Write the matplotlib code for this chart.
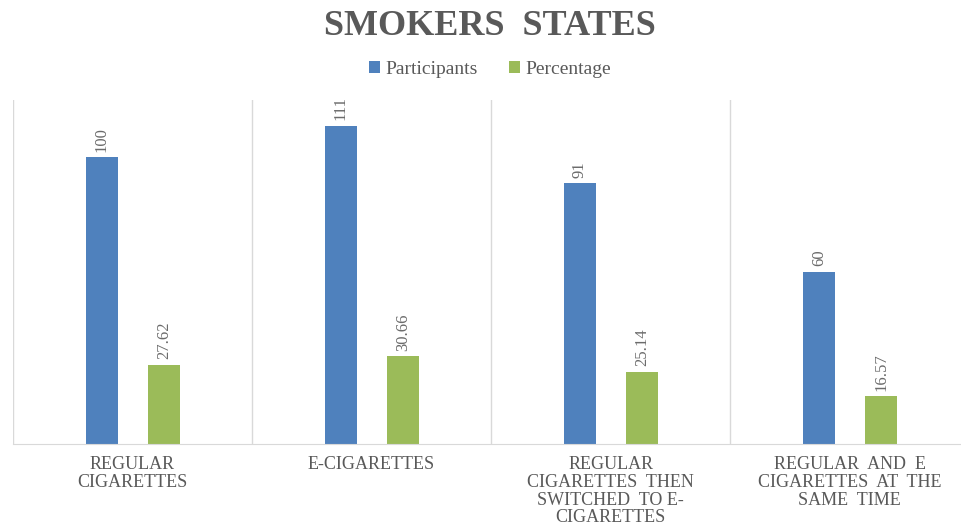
import numpy as np
import matplotlib
matplotlib.use('Agg')
import matplotlib.pyplot as plt

# Data
categories = ['REGULAR\nCIGARETTES', 'E-CIGARETTES',
              'REGULAR\nCIGARETTES  THEN\nSWITCHED  TO E-\nCIGARETTES',
              'REGULAR  AND  E\nCIGARETTES  AT  THE\nSAME  TIME']
participants = [100, 111, 91, 60]
percentage = [27.62, 30.66, 25.14, 16.57]

blue = '#4F81BD'
green = '#9BBB59'
text_gray = '#595959'

plt.rcParams['font.family'] = ['Liberation Serif', 'DejaVu Serif']

fig = plt.figure(figsize=(9.61, 5.27), dpi=100)
ax = fig.add_axes([0.0135, 0.1575, 0.995, 0.6528])

x = np.arange(len(categories))
w = 0.134
b1 = ax.bar(x - 0.128, participants, w, color=blue)
b2 = ax.bar(x + 0.132, percentage, w, color=green)

for bars, vals in [(b1, participants), (b2, percentage)]:
    for rect, v in zip(bars, vals):
        ax.annotate(f'{v:g}', (rect.get_x() + rect.get_width() / 2, rect.get_height()),
                    xytext=(0, 4), textcoords='offset points', rotation=90,
                    ha='center', va='bottom', fontsize=12, color='#6b6b6b')

ax.set_xlim(-0.5, len(categories) - 0.5)
ax.set_ylim(0, 120)
ax.set_yticks([])
ax.set_xticks(x)
ax.set_xticklabels(categories, fontsize=13, color=text_gray, linespacing=1.04)
ax.tick_params(axis='x', length=0, pad=9)

# separators between categories
for sx in np.arange(-0.5, len(categories), 1.0):
    ax.axvline(sx, color='#D9D9D9', lw=1)

for s in ['top', 'right', 'left']:
    ax.spines[s].set_visible(False)
ax.spines['bottom'].set_color('#D9D9D9')

fig.text(0.51, 0.95, 'SMOKERS  STATES', ha='center', va='center',
         fontsize=26, fontweight='bold', color=text_gray)

fig.legend([b1, b2], ['Participants', 'Percentage'], loc='center',
           bbox_to_anchor=(0.51, 0.869), ncol=2, frameon=False,
           fontsize=14, labelcolor=text_gray, handlelength=0.55,
           handleheight=0.55, handletextpad=0.3, columnspacing=1.6)

fig.savefig('out.png', dpi=100)
